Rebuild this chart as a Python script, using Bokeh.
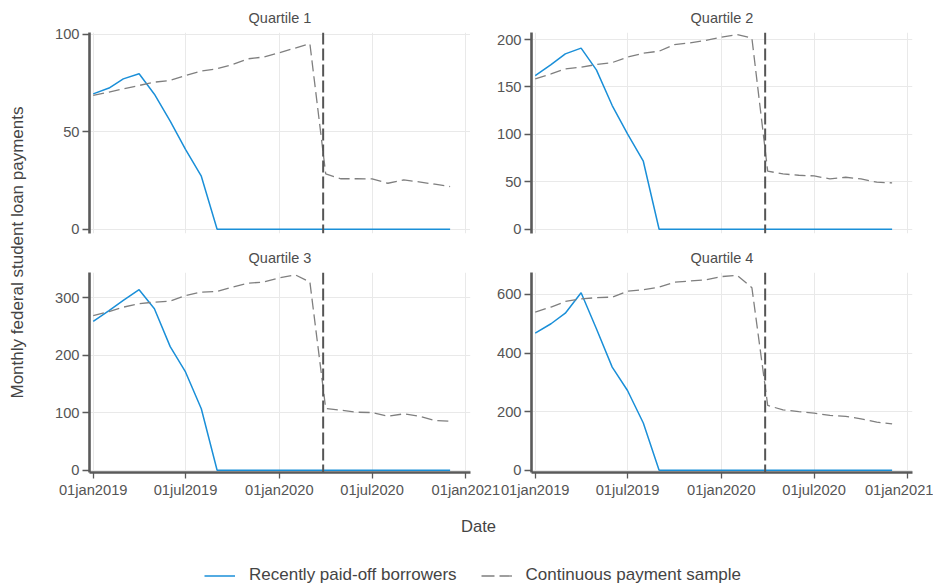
import numpy as np
import pandas as pd
from bokeh.plotting import figure
from bokeh.models import Range1d, FixedTicker, Span, Label, Legend, LegendItem
from bokeh.layouts import row, column
from bokeh.embed import file_html
from bokeh.resources import INLINE

# ---- data -----------------------------------------------------------------
months = pd.date_range("2019-01-01", "2020-12-01", freq="MS")

q1_paid_off = [69.5, 72.5, 77.2, 79.8, 69.3, 55.5, 41.0, 27.2, 0, 0, 0, 0,
               0, 0, 0, 0, 0, 0, 0, 0, 0, 0, 0, 0]
q1_continuous = [68.7, 70.4, 72.1, 73.8, 75.5, 76.4, 78.9, 81.2, 82.4, 84.5, 87.5, 88.4,
                 90.6, 93.0, 95.2, 28.4, 25.9, 25.9, 25.8, 23.6, 25.3, 24.3, 23.1, 21.9]

q2_paid_off = [162.0, 173.6, 184.9, 190.9, 168.0, 130.4, 100.5, 71.7, 0, 0, 0, 0,
               0, 0, 0, 0, 0, 0, 0, 0, 0, 0, 0, 0]
q2_continuous = [158.5, 163.8, 169.0, 170.8, 173.6, 175.7, 181.4, 185.6, 187.7, 194.7, 196.5, 198.9,
                 202.5, 205.3, 201.4, 61.2, 58.3, 56.9, 56.2, 53.1, 54.8, 53.1, 49.6, 48.9]

q3_paid_off = [259.0, 277.6, 295.6, 314.0, 281.0, 215.0, 171.0, 107.0, 0, 0, 0, 0,
               0, 0, 0, 0, 0, 0, 0, 0, 0, 0, 0, 0]
q3_continuous = [269.0, 276.0, 283.7, 289.6, 292.5, 294.2, 304.0, 309.9, 311.0, 318.6, 325.5, 327.3,
                 334.8, 340.0, 327.3, 107.3, 104.4, 100.9, 100.3, 94.0, 98.0, 94.0, 86.5, 85.4]

q4_paid_off = [468.0, 500.0, 536.0, 606.0, 483.0, 352.0, 272.0, 161.0, 0, 0, 0, 0,
               0, 0, 0, 0, 0, 0, 0, 0, 0, 0, 0, 0]
q4_continuous = [540.0, 557.0, 576.0, 585.0, 589.0, 591.0, 611.0, 616.0, 625.0, 642.0, 646.0, 650.0,
                 661.0, 665.0, 623.0, 221.0, 206.0, 200.0, 195.0, 187.0, 184.0, 175.0, 164.0, 158.0]

panel_titles = ["Quartile 1", "Quartile 2", "Quartile 3", "Quartile 4"]
x_tick_dates = ["2019-01-01", "2019-07-01", "2020-01-01", "2020-07-01", "2021-01-01"]
x_tick_labels = ["01jan2019", "01jul2019", "01jan2020", "01jul2020", "01jan2021"]
q1_y_ticks = [0, 50, 100]
q2_y_ticks = [0, 50, 100, 150, 200]
q3_y_ticks = [0, 100, 200, 300]
q4_y_ticks = [0, 200, 400, 600]
policy_date = "2020-03-27"

series_labels = ["Recently paid-off borrowers", "Continuous payment sample"]
y_title = "Monthly federal student loan payments"
x_title = "Date"

# ---- styling --------------------------------------------------------------
FONT = "Liberation Sans"
BLUE = "#1a8fd8"
GRAY = "#7f7f7f"
AXIS = "#5a5a5a"
TEXT = "#555555"
GRID = "#e9e9e9"
DAY_MS = 86400000


def ms(d):
    return int(pd.Timestamp(d).value // 10**6)


month_ms = [ms(m) for m in months]
x_ticks = [ms(d) for d in x_tick_dates]
x_lo = ms("2019-01-01") - 7.3 * DAY_MS
x_hi = ms("2021-01-01") + 9.0 * DAY_MS


def make_panel(title, paid, cont, y_ticks, y_lo, y_hi, show_x,
               width, height, left, right, top, bottom):
    p = figure(width=width, height=height,
               x_range=Range1d(x_lo, x_hi), y_range=Range1d(y_lo, y_hi),
               output_backend="svg", toolbar_location=None,
               min_border_left=left, min_border_right=right,
               min_border_top=top, min_border_bottom=bottom,
               title=title)
    p.title.align = "center"
    p.title.text_font = FONT
    p.title.text_font_size = "14.5px"
    p.title.text_font_style = "normal"
    p.title.text_color = "#4d4d4d"
    p.title.standoff = 14
    p.outline_line_color = None

    for ax, ticks in ((p.xaxis, x_ticks), (p.yaxis, y_ticks)):
        ax.ticker = FixedTicker(ticks=ticks)
        ax.axis_line_color = AXIS
        ax.axis_line_width = 2.6
        ax.major_tick_line_color = AXIS
        ax.major_tick_line_width = 1.3
        ax.major_tick_in = 0
        ax.minor_tick_line_color = None
        ax.major_label_text_font = FONT
        ax.major_label_text_font_size = "14.7px"
        ax.major_label_text_color = TEXT
    p.xaxis.major_tick_out = 6
    p.xaxis.major_label_standoff = 3
    p.yaxis.major_tick_out = 7
    p.yaxis.major_label_standoff = 3
    p.xaxis.major_label_overrides = dict(zip(x_ticks, x_tick_labels))
    if not show_x:
        p.xaxis.visible = False

    p.xgrid.ticker = FixedTicker(ticks=x_ticks)
    p.ygrid.ticker = FixedTicker(ticks=y_ticks)
    p.grid.grid_line_color = GRID
    p.grid.grid_line_width = 1

    p.line(month_ms, paid, line_color=BLUE, line_width=1.5)
    p.line(month_ms, cont, line_color=GRAY, line_width=1.3, line_dash="11 5")

    p.add_layout(Span(location=ms(policy_date), dimension="height",
                      line_color="#555555", line_width=2, line_dash="12 4"))
    return p


p1 = make_panel(panel_titles[0], q1_paid_off, q1_continuous, q1_y_ticks, -2.2, 101.0,
                False, 435, 240, 54, 0, 32, 7)
p2 = make_panel(panel_titles[1], q2_paid_off, q2_continuous, q2_y_ticks, -4.5, 207.4,
                False, 463, 240, 61, 21, 32, 7)
p3 = make_panel(panel_titles[2], q3_paid_off, q3_continuous, q3_y_ticks, -4.0, 344.0,
                True, 465, 260, 54, 30, 32, 28)
p4 = make_panel(panel_titles[3], q4_paid_off, q4_continuous, q4_y_ticks, -7.9, 675.0,
                True, 463, 260, 61, 21, 32, 28)
# let the right-hand panel's transparent border sit over the left panel's last date label
p4.border_fill_alpha = 0
p4.margin = (0, 0, 0, -30)


def blank(width, height):
    f = figure(width=width, height=height, x_range=Range1d(0, 1), y_range=Range1d(0, 1),
               output_backend="svg", toolbar_location=None, min_border=0,
               x_axis_location=None, y_axis_location=None)
    f.outline_line_color = None
    f.grid.visible = False
    return f


# shared y-axis title
ylab = blank(35, 500)
ylab.add_layout(Label(x=17, y=248, x_units="screen", y_units="screen", text=y_title,
                      angle=np.pi / 2, text_align="center", text_baseline="middle",
                      text_font=FONT, text_font_size="17px", text_color="#444444"))

# shared x-axis title and legend
foot = blank(933, 85)
foot.add_layout(Label(x=478, y=59, x_units="screen", y_units="screen", text=x_title,
                      text_align="center", text_baseline="middle",
                      text_font=FONT, text_font_size="16.6px", text_color="#444444"))
# legend keys: renderers whose points lie outside this strip's range, so only the keys show
r_paid = foot.line(x=[2, 3], y=[2, 2], line_color=BLUE, line_width=1.5)
r_cont = foot.line(x=[2, 3], y=[2, 2], line_color=GRAY, line_width=1.3, line_dash="13 5")
legend = Legend(items=[LegendItem(label=series_labels[0], renderers=[r_paid]),
                       LegendItem(label=series_labels[1], renderers=[r_cont])],
                orientation="horizontal", location=(204, 0),
                border_line_color=None, background_fill_alpha=0,
                label_text_font=FONT, label_text_font_size="17px", label_text_color="#444444",
                glyph_width=31, glyph_height=17, label_standoff=14, spacing=24,
                padding=0, margin=0)
foot.add_layout(legend, "center")

layout = column(row(ylab, column(row(p1, p2), row(p3, p4))), foot)

with open("out.html", "w") as fh:
    fh.write(file_html(layout, INLINE))
